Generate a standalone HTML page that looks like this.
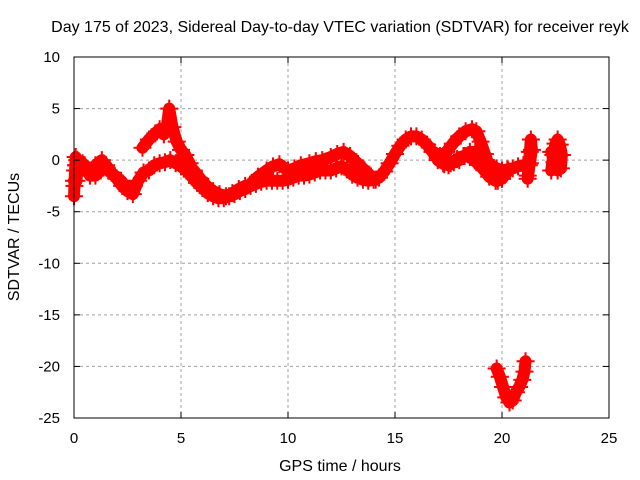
<!DOCTYPE html>
<html><head><meta charset="utf-8"><style>
body{margin:0;background:#fff}
svg{display:block;font-family:"Liberation Sans",sans-serif}
</style></head><body>
<svg id="c" width="640" height="480">
<text x="340" y="32" font-size="16" text-anchor="middle">Day 175 of 2023, Sidereal Day-to-day VTEC variation (SDTVAR) for receiver reyk</text>
<text x="340" y="471" font-size="16" text-anchor="middle">GPS time / hours</text>
<text transform="translate(19,237) rotate(-90)" font-size="16" text-anchor="middle">SDTVAR / TECUs</text>
<g id="grid"></g><g id="marks"></g><g id="axes"></g>
</svg>
<script>
const xTicks=[0,5,10,15,20,25];
const yTicks=[10,5,0,-5,-10,-15,-20,-25];
const trackMainT=[0,0.25,0.5,0.75,1,1.25,1.5,1.75,2,2.25,2.5,2.75,3,3.25,3.5,3.75,4,4.25,4.5,4.75,5,5.25,5.5,5.75,6,6.25,6.5,6.75,7,7.25,7.5,7.75,8,8.25,8.5,8.75,9,9.25,9.5,9.75,10,10.25,10.5,10.75,11,11.25,11.5,11.75,12,12.25,12.5,12.75,13,13.25,13.5,13.75,14,14.25,14.5,14.75,15,15.25,15.5,15.75,16,16.25,16.5,16.75,17,17.25,17.5,17.75,18,18.25,18.5,18.75,19,19.25,19.5,19.75,20,20.25,20.5,20.75,21];
const trackMainV=[-2,-1,-0.5,-1.5,-1.5,-1,-0.5,-1.2,-1.8,-2.5,-3,-3.3,-2,-1.2,-1,-0.5,-0.3,-0.2,0,-0.3,-0.6,-1,-1.6,-2.2,-2.7,-3.2,-3.5,-3.7,-3.7,-3.5,-3.3,-3,-2.8,-2.5,-2.3,-2.1,-2,-2,-2,-2,-1.9,-1.7,-1.5,-1.5,-1.4,-1.2,-1,-1,-1,-0.8,-0.6,-0.9,-1.4,-1.7,-1.9,-2,-1.9,-1.7,-1.1,-0.3,0.6,1.4,2,2.3,2.3,2,1.5,0.8,0.2,-0.3,-0.5,-0.2,0,0.4,0.8,0.8,0.5,0,-0.5,-0.8,-1,-0.9,-0.8,-0.6,-0.5];
const trackNoiseT=[0.1,0.4,0.7,1,1.3,1.6,1.9,2.2,2.5,2.8];
const trackNoiseV=[-0.5,-0.3,-1,-0.5,0,-1,-1.5,-2,-2.8,-2.5];
const trackMidT=[5,5.3,5.6,5.9,6.2,6.5,6.8,7.1,7.4,7.7,8];
const trackMidV=[0,-0.5,-1,-1.8,-2.5,-3,-3.3,-3.5,-3.2,-2.8,-2.5];
const trackHumpT=[3.2,3.5,3.8,4.0,4.2,4.35,4.45,4.6,4.8,5.0,5.2,5.4,5.6];
const trackHumpV=[1.2,2,2.6,3,2.5,3.5,5,3.2,1.8,1,0.5,-0.3,-1.2];
const trackUpperT=[8.3,8.6,9,9.3,9.6,10,10.3,10.6,11,11.3,11.6,12,12.3,12.6,12.9,13.2,13.5,13.8,14.1];
const trackUpperV=[-2.2,-1.6,-1,-0.6,-0.4,-1,-0.8,-0.5,-0.3,-0.1,0,0.3,0.6,0.8,0.4,-0.2,-0.8,-1.4,-1.9];
const trackArcT=[16.8,17.1,17.4,17.7,18,18.3,18.6,18.8,19.0,19.2,19.4,19.6,19.8,20,20.3];
const trackArcV=[0.8,0.4,0.8,1.6,2.3,2.8,3,2.8,1.8,0.6,-0.6,-1.5,-2,-1.8,-1];
const trackLowT=[17,17.3,17.6,17.9,18.2,18.5,18.8,19.1,19.4,19.7,20];
const trackLowV=[0,-0.4,-0.3,0.1,0.4,0.3,-0.2,-0.8,-1.6,-2,-1.8];
const trackLateAT=[21.2,21.25,21.3,21.35,21.4,21.3,21.2];
const trackLateAV=[-1.5,-0.5,0.8,2,1,-0.3,-1.8];
const trackLateBT=[22.3,22.4,22.5,22.6,22.7,22.8,22.75,22.6,22.45,22.3];
const trackLateBV=[-1,0.5,1.6,2,1.5,0.5,-0.8,-1,-0.2,0.8];
const trackDipT=[19.75,19.9,20.05,20.2,20.35,20.5,20.65,20.8,20.95,21.05,21.1];
const trackDipV=[-20.2,-21,-22,-23,-23.5,-23.3,-22.5,-22,-21.3,-20.5,-19.5];
const trackStartT=[0,0.02,0.05,0.08,0.1,0.12,0.15];
const trackStartV=[-3.5,-2.5,-1,0.3,-0.5,-2,0];
const tracks=[[trackMainT,trackMainV],[trackNoiseT,trackNoiseV],[trackMidT,trackMidV],[trackHumpT,trackHumpV],[trackUpperT,trackUpperV],[trackArcT,trackArcV],[trackLowT,trackLowV],[trackLateAT,trackLateAV],[trackLateBT,trackLateBV],[trackDipT,trackDipV],[trackStartT,trackStartV]];
const X0=74,X1=609,Y0=57,Y1=418;
const sx=t=>X0+(t-0)/25*(X1-X0);
const sy=v=>Y0+(10-v)/35*(Y1-Y0);
const NS="http://www.w3.org/2000/svg";
function mk(tag,attrs,parent){const e=document.createElementNS(NS,tag);for(const k in attrs)e.setAttribute(k,attrs[k]);parent.appendChild(e);return e;}
const grid=document.getElementById('grid'),marks=document.getElementById('marks'),axes=document.getElementById('axes');
xTicks.forEach(t=>{
  if(t>0&&t<25){const g=mk('line',{x1:sx(t),x2:sx(t),y1:Y0,y2:Y1,stroke:'#a0a0a0','stroke-dasharray':'3,3'},grid);
  
  }
  const l=mk('text',{x:sx(t),y:Y1+25,'font-size':15,'text-anchor':'middle'},axes);l.textContent=t;
  
  
  mk('line',{x1:sx(t),x2:sx(t),y1:Y1,y2:Y1-6,stroke:'#000'},axes);
  mk('line',{x1:sx(t),x2:sx(t),y1:Y0,y2:Y0+6,stroke:'#000'},axes);
});
yTicks.forEach(v=>{
  if(v<10&&v>-25){const g=mk('line',{x1:X0,x2:X1,y1:sy(v),y2:sy(v),stroke:'#a0a0a0','stroke-dasharray':'3,3'},grid);
  
  }
  const l=mk('text',{x:X0-14,y:sy(v)+5,'font-size':15,'text-anchor':'end'},axes);l.textContent=v;
  
  
  mk('line',{x1:X0,x2:X0+6,y1:sy(v),y2:sy(v),stroke:'#000'},axes);
  mk('line',{x1:X1,x2:X1-6,y1:sy(v),y2:sy(v),stroke:'#000'},axes);
});
const frame=mk('rect',{x:X0,y:Y0,width:X1-X0,height:Y1-Y0,fill:'none',stroke:'#000'},axes);


tracks.forEach(([T,V])=>{
  const pts=T.map((t,i)=>sx(t)+','+sy(V[i])).join(' ');
  const pl=mk('polyline',{points:pts,fill:'none',stroke:'#ff0000','stroke-width':12,'stroke-linejoin':'round','stroke-linecap':'round'},marks);
  
  
  T.forEach((t,i)=>{
    const x=sx(t),y=sy(V[i]);
    const p=mk('path',{d:`M${x-9},${y}h18M${x},${y-9}v18`,stroke:'#ff0000','stroke-width':2},marks);
    
    
  });
});
</script>
</body></html>
